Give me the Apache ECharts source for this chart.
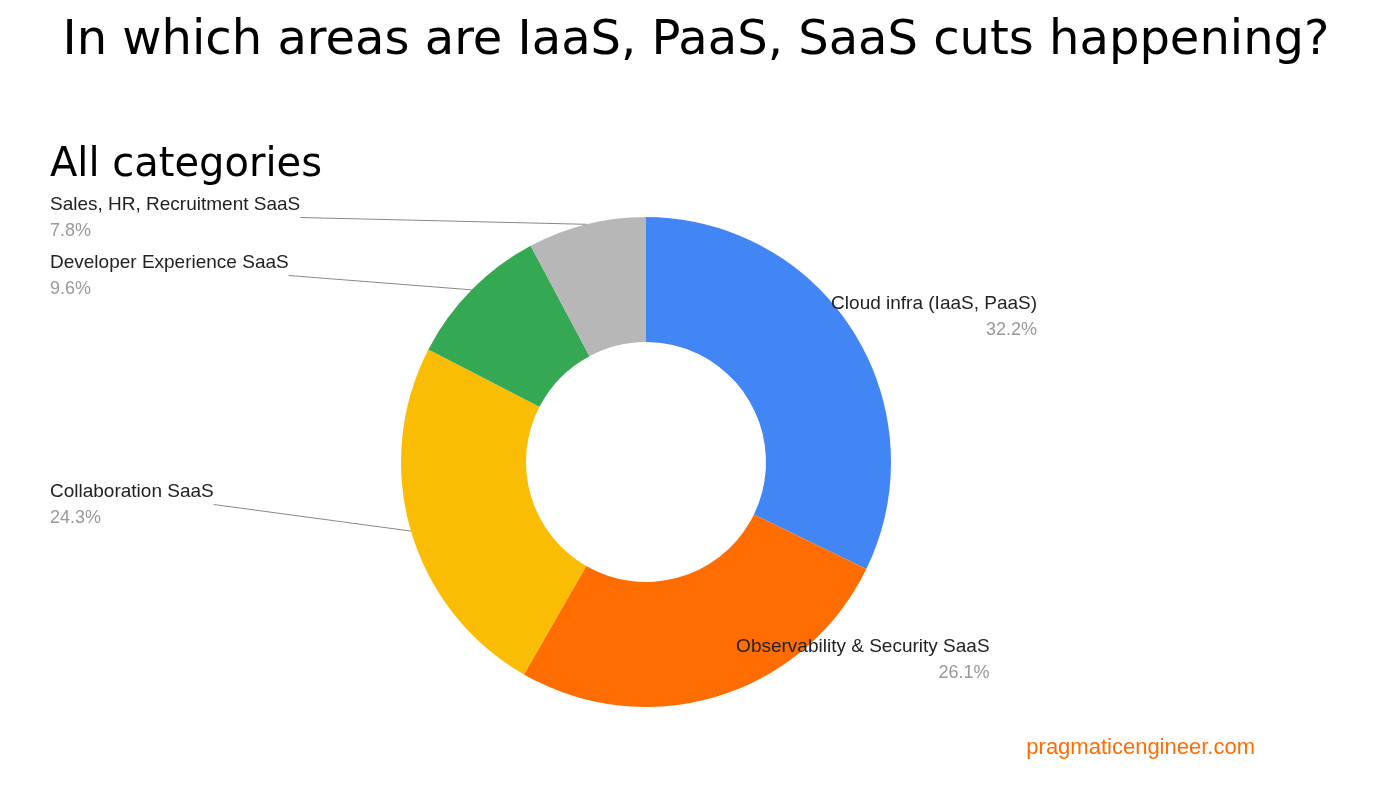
<!DOCTYPE html>
<html><head><meta charset="utf-8">
<script src="https://cdn.jsdelivr.net/npm/echarts@6/dist/echarts.min.js"></script>
<style>html,body{margin:0;padding:0;background:#fff}#c{width:1392px;height:794px}</style>
</head><body><div id="c"></div>
<script>
const categories = ['Cloud infra (IaaS, PaaS)','Observability & Security SaaS','Collaboration SaaS','Developer Experience SaaS','Sales, HR, Recruitment SaaS'];
const values = [32.2,26.1,24.3,9.6,7.8];
const colors = ['#4285f4','#ff6d01','#fbbc04','#34a853','#b7b7b7'];
const labelY = [339,682,527,298,240];
const chart = echarts.init(document.getElementById('c'));
chart.setOption({
  animation:false,
  color: colors,
  graphic:[
    {type:'text',left:'center',top:18,style:{text:'In which areas are IaaS, PaaS, SaaS cuts happening?',font:'48px "Comic Sans MS", "DejaVu Sans", sans-serif',fill:'#000'}},
    {type:'text',left:50,top:146,style:{text:'All categories',font:'40px "Comic Sans MS", "DejaVu Sans", sans-serif',fill:'#000'}},
    {type:'text',right:137,top:737,style:{text:'pragmaticengineer.com',font:'22px Arial, "Liberation Sans", sans-serif',fill:'#ff6d01'}}
  ],
  series:[{
    type:'pie',
    center:[646,462],
    radius:[120,245],
    startAngle:90,
    clockwise:true,
    data: categories.map((n,i)=>({name:n,value:values[i]})),
    label:{
      position:'outside',
      alignTo:'edge',
      edgeDistance:50,
      formatter: p => '{n|'+p.name+'}\n{v|'+p.value.toFixed(1)+'%}',
      rich:{
        n:{fontSize:19,color:'#222',fontFamily:'Arial, "Liberation Sans"',lineHeight:26},
        v:{fontSize:18,color:'#999',fontFamily:'Arial, "Liberation Sans"',lineHeight:26}
      }
    },
    labelLayout: p => {
      const right = p.labelRect.x > 646;
      const y = labelY[p.dataIndex];
      return right ? {x:1243 - p.labelRect.width, y:y - p.labelRect.height/2} : {x:50, y:y - p.labelRect.height/2};
    },
    labelLine:{show:true,length:10,length2:0,lineStyle:{color:'#888',width:1}},
    emphasis:{disabled:true}
  }]
});
</script></body></html>
